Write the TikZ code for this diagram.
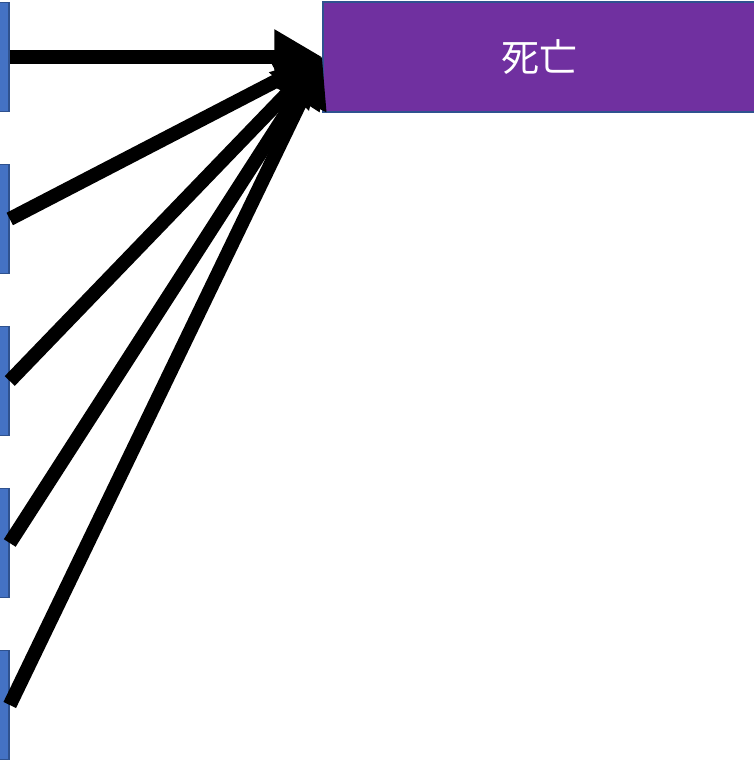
\documentclass[tikz,border=0pt]{standalone}
\usepackage{fontspec}
\newfontfamily\cjk{Noto Sans CJK JP}
\usetikzlibrary{arrows.meta}
\definecolor{bluefill}{HTML}{4472C4}
\definecolor{blueedge}{HTML}{2F528F}
\definecolor{purplefill}{HTML}{7030A0}
\tikzset{
  srcbox/.style={draw=blueedge, line width=1.5pt, fill=bluefill, minimum width=108pt, minimum height=109pt, inner sep=0pt},
  targetbox/.style={draw=blueedge, line width=1.5pt, fill=purplefill, minimum width=432pt, minimum height=110pt, inner sep=0pt, text=white, font=\cjk\fontsize{38}{44}\selectfont},
  arr/.style={line width=14pt, -{Triangle[length=48pt,width=52pt]}}
}
\begin{document}
\begin{tikzpicture}[x=1pt,y=1pt]
\useasboundingbox (0,0) rectangle (753,763);
\node[srcbox] (b1) at (-45,763-57) {};
\node[srcbox] (b2) at (-45,763-219) {};
\node[srcbox] (b3) at (-45,763-381) {};
\node[srcbox] (b4) at (-45,763-543) {};
\node[srcbox] (b5) at (-45,763-705) {};
\node[targetbox] (death) at (539,763-57) {死亡};
\draw[arr] (b1.east) -- (death.west);
\draw[arr] (b2.east) -- (death.west);
\draw[arr] (b3.east) -- (death.west);
\draw[arr] (b4.east) -- (death.west);
\draw[arr] (b5.east) -- (death.west);
\end{tikzpicture}
\end{document}
